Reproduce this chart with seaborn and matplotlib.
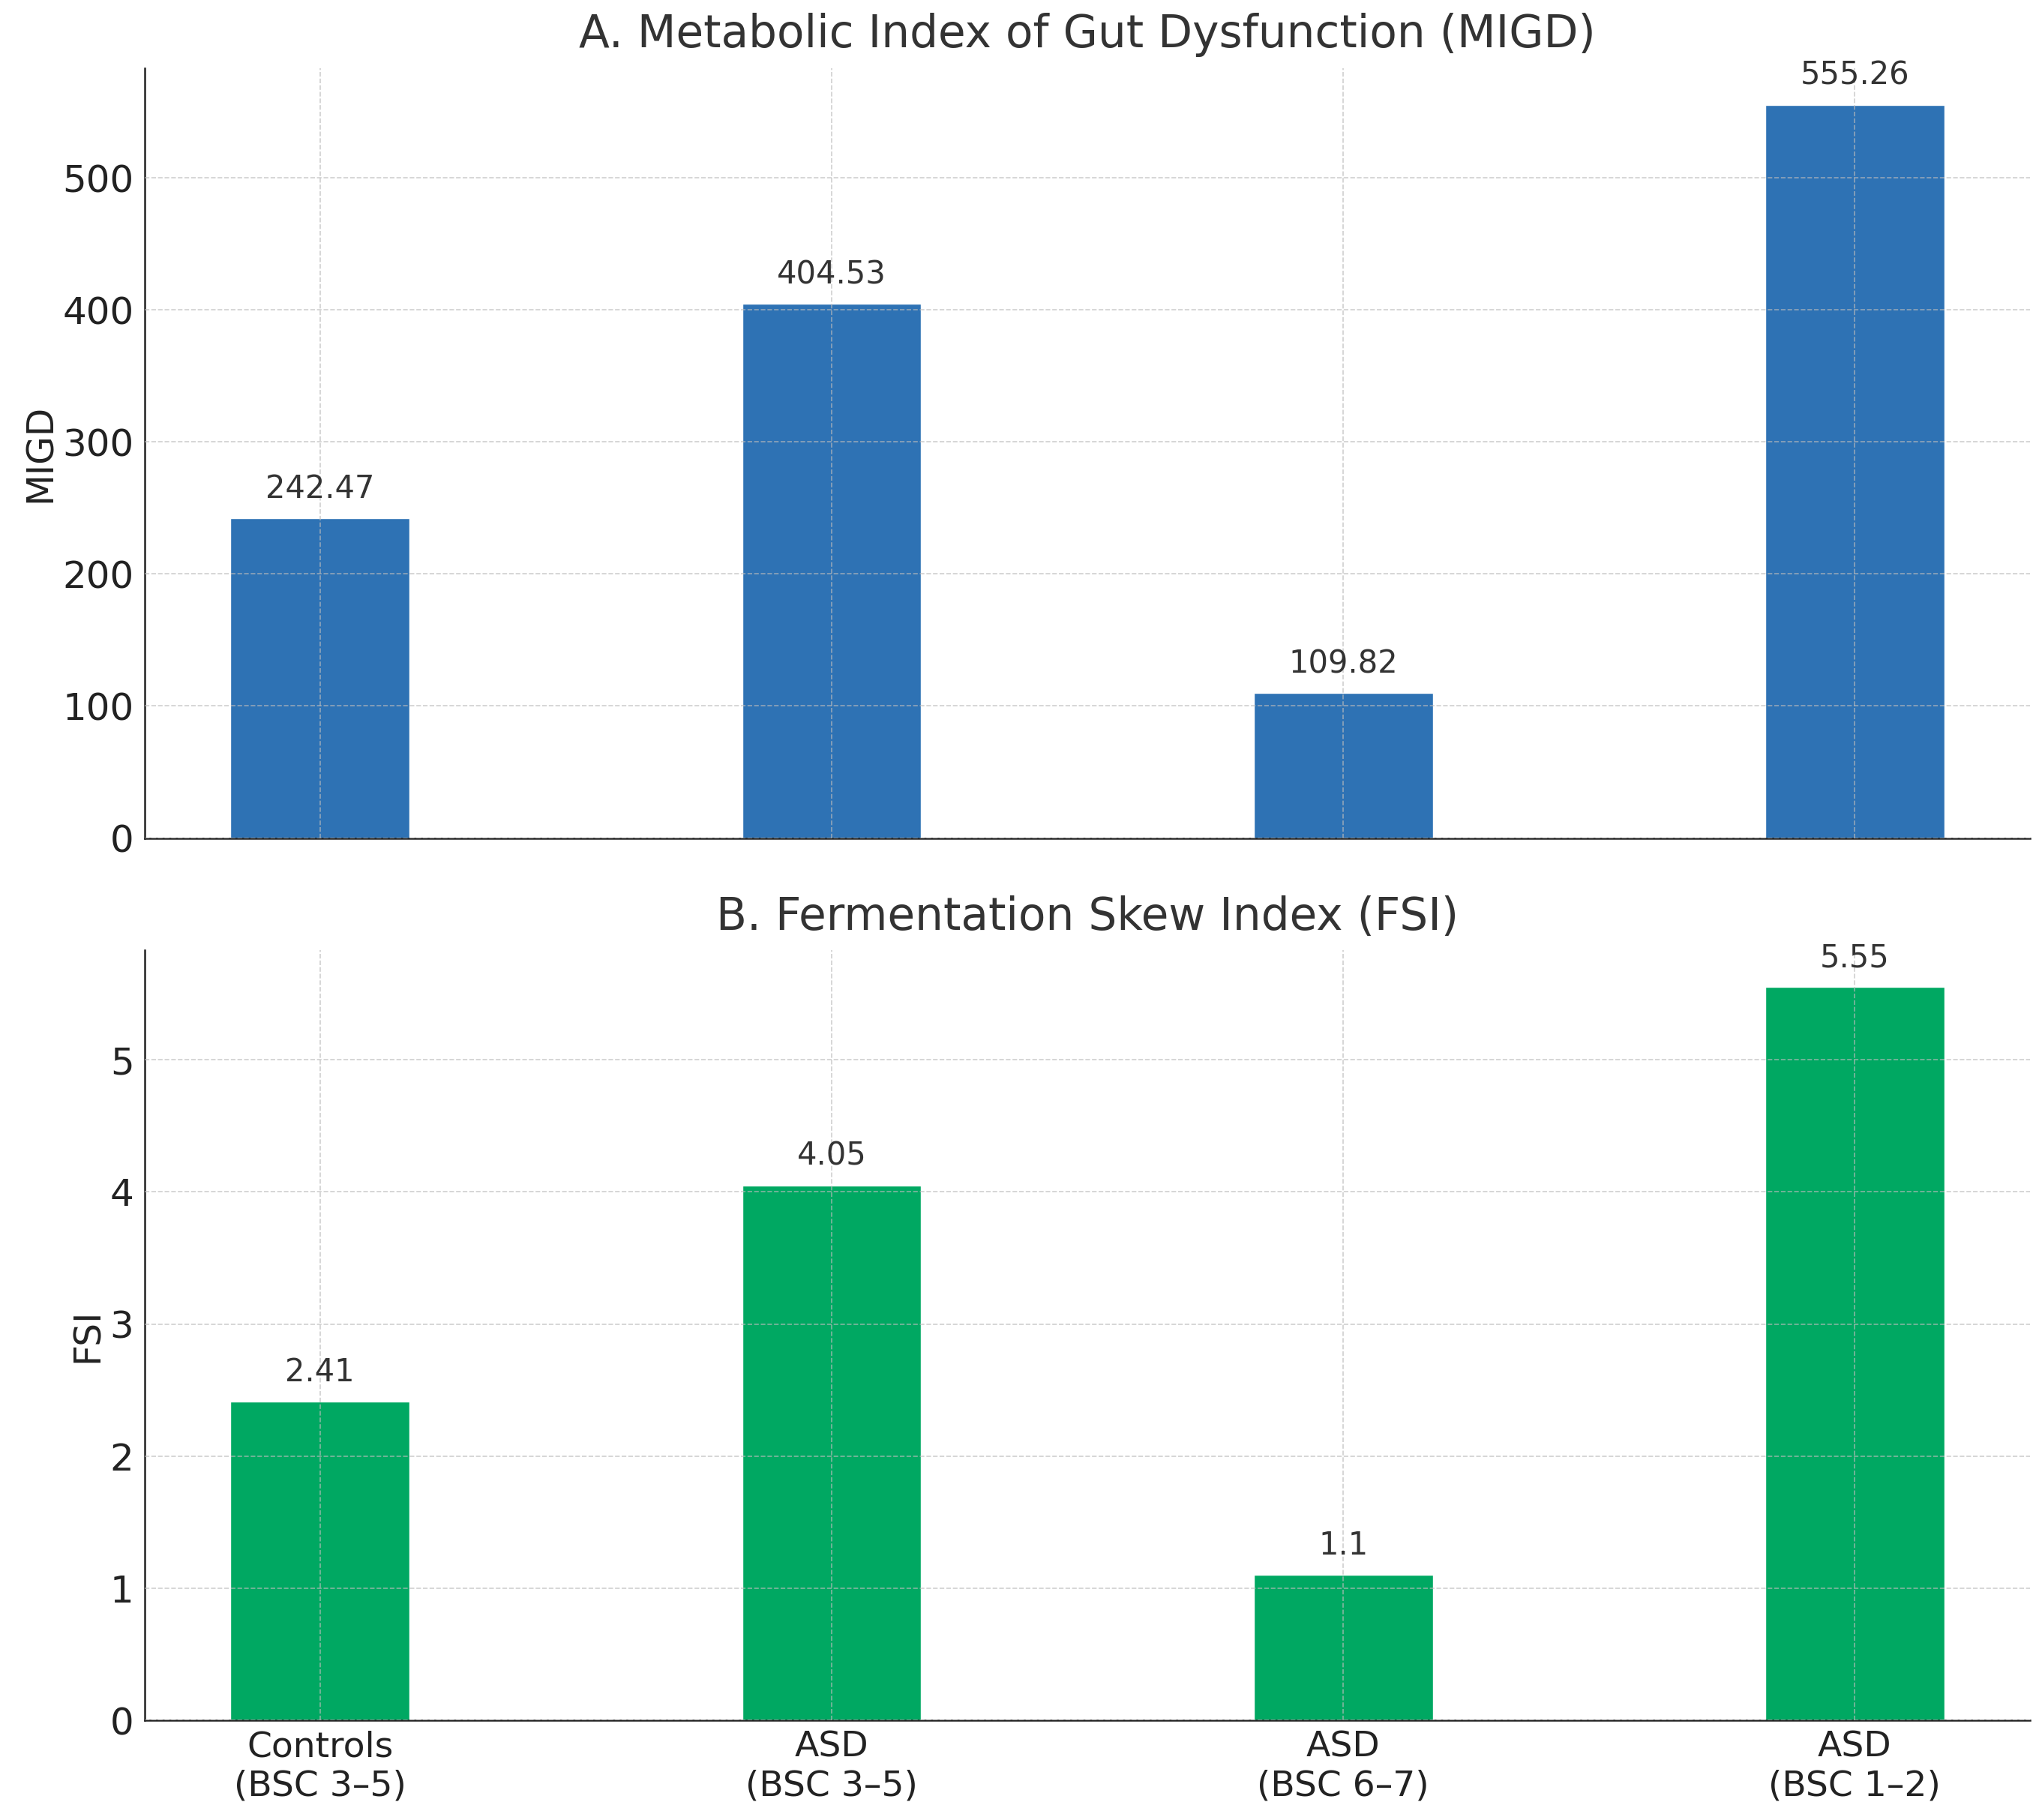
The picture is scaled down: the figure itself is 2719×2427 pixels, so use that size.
import pandas as pd
import matplotlib
matplotlib.use("Agg")
import matplotlib.pyplot as plt
import seaborn as sns

# Data
groups = ["Controls\n(BSC 3–5)", "ASD\n(BSC 3–5)", "ASD\n(BSC 6–7)", "ASD\n(BSC 1–2)"]
migd_values = [242.47, 404.53, 109.82, 555.26]
fsi_values = [2.41, 4.05, 1.1, 5.55]

df = pd.DataFrame({"Group": groups, "MIGD": migd_values, "FSI": fsi_values})

sns.set_style("white")
plt.rcParams["font.family"] = ["DejaVu Sans"]
plt.rcParams["text.color"] = "#333333"

fig, axes = plt.subplots(2, 1, figsize=(27.19, 24.27), dpi=100, sharex=True)
fig.subplots_adjust(left=0.071, right=0.9956, top=0.9625, bottom=0.0548, hspace=0.146)

panels = [
    ("MIGD", "#2E72B4", "A. Metabolic Index of Gut Dysfunction (MIGD)", range(0, 501, 100)),
    ("FSI", "#00A862", "B. Fermentation Skew Index (FSI)", range(0, 6)),
]

for ax, (col, color, title, yticks) in zip(axes, panels):
    sns.barplot(data=df, x="Group", y=col, color=color, width=0.35,
                saturation=1, ax=ax)
    ax.bar_label(ax.containers[0], fmt="%g", padding=13, fontsize=30, color="#333333")
    ax.set_title(title, fontsize=43, color="#333333", pad=20)
    ax.set_ylabel(col, fontsize=35, color="#222222")
    ax.set_xlabel("")
    ax.set_yticks(list(yticks))
    ax.set_xlim(-0.3425, 3.3425)
    ax.set_ylim(0, max(df[col]) * 1.05)
    ax.tick_params(axis="y", labelsize=36, length=7, width=1.5, colors="#222222")
    ax.tick_params(axis="x", labelsize=34, length=0, colors="#222222", pad=10)
    ax.grid(True, axis="both", linestyle="--", linewidth=1.2, color="#bbbbbb", alpha=0.7)
    ax.set_axisbelow(False)
    sns.despine(ax=ax)
    for side in ["left", "bottom"]:
        ax.spines[side].set_color("#222222")
        ax.spines[side].set_linewidth(1.8)

axes[0].tick_params(axis="x", labelbottom=False)

fig.savefig("out.png", dpi=100)
